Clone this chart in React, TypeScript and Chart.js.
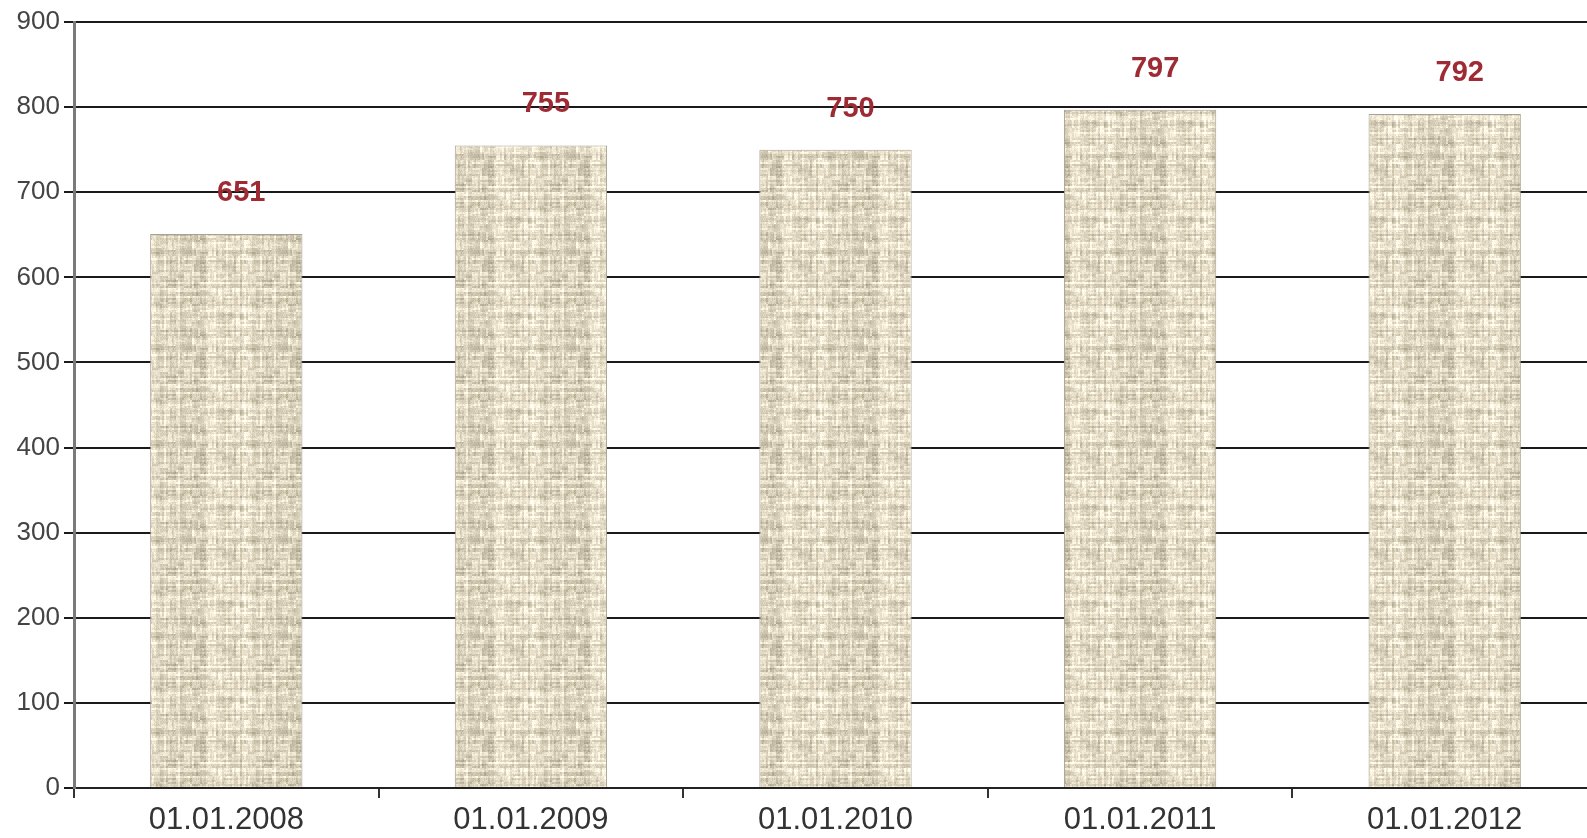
import React, { useEffect, useRef } from "react";
import { Chart, registerables } from "chart.js";

Chart.register(...registerables);

const categories = ["01.01.2008", "01.01.2009", "01.01.2010", "01.01.2011", "01.01.2012"];
const values = [651, 755, 750, 797, 792];
const yTicks = [0, 100, 200, 300, 400, 500, 600, 700, 800, 900];

function makeLinen(): CanvasPattern | string {
  const size = 96;
  const c = document.createElement("canvas");
  c.width = size;
  c.height = size;
  const ctx = c.getContext("2d");
  if (!ctx) return "#ddd3bd";
  const img = ctx.createImageData(size, size);
  const h = (a: number, b: number) => {
    const s = Math.sin(a * 12.9898 + b * 78.233) * 43758.5453;
    return s - Math.floor(s);
  };
  for (let y = 0; y < size; y++) {
    for (let x = 0; x < size; x++) {
      const col = h(Math.floor(x / 2), 3.1) - 0.5;
      const row = h(7.7, Math.floor(y / 2)) - 0.5;
      const streakV = h(Math.floor(x / 2), Math.floor(y / 8)) - 0.5;
      const streakH = h(Math.floor(x / 8) + 100, Math.floor(y / 2)) - 0.5;
      const n = h(x + 0.37, y + 0.71) - 0.5;
      const v = 0.55 * col + 0.55 * row + 0.5 * streakV + 0.5 * streakH + 0.4 * n;
      const d = v * 60;
      const i = (y * size + x) * 4;
      img.data[i] = Math.max(0, Math.min(255, 227 + d));
      img.data[i + 1] = Math.max(0, Math.min(255, 218 + d));
      img.data[i + 2] = Math.max(0, Math.min(255, 197 + d * 1.05));
      img.data[i + 3] = 255;
    }
  }
  ctx.putImageData(img, 0, 0);
  const p = ctx.createPattern(c, "repeat");
  return p || "#ddd3bd";
}

const labelPlugin = {
  id: "barLabels",
  afterDatasetsDraw(chart: any) {
    const ctx = chart.ctx;
    const meta = chart.getDatasetMeta(0);
    ctx.save();
    ctx.fillStyle = "#9e2a34";
    ctx.font = "bold 29px 'Liberation Sans', Arial, sans-serif";
    ctx.textAlign = "center";
    ctx.textBaseline = "middle";
    meta.data.forEach((bar: any, i: number) => {
      ctx.fillText(String(values[i]), bar.x + 15, bar.y - 41);
    });
    ctx.restore();
  },
};

export default function App() {
  const ref = useRef<HTMLCanvasElement | null>(null);
  useEffect(() => {
    document.body.style.margin = "0";
    if (!ref.current) return;
    const pattern = makeLinen();
    const chart = new Chart(ref.current, {
      type: "bar",
      data: {
        labels: categories,
        datasets: [
          {
            data: values,
            backgroundColor: pattern as any,
            borderColor: "#a8a294",
            borderWidth: 1,
            categoryPercentage: 1,
            barPercentage: 0.5,
          },
        ],
      },
      options: {
        animation: false,
        responsive: false,
        devicePixelRatio: 1,
        layout: { padding: { top: 22, right: 0, left: 0, bottom: 0 } },
        plugins: { legend: { display: false }, tooltip: { enabled: false } },
        scales: {
          x: {
            grid: {
              offset: true,
              drawOnChartArea: false,
              drawTicks: true,
              tickLength: 10,
              color: "#333",
              lineWidth: 2,
            },
            border: { color: "#222", width: 2 },
            ticks: {
              color: "#333",
              font: { family: "'Liberation Sans', Arial, sans-serif", size: 31 },
              padding: 4,
              maxRotation: 0,
              autoSkip: false,
            },
            afterFit(scale: any) {
              scale.height = 50;
              scale.paddingLeft = 0;
              scale.paddingRight = 0;
            },
          },
          y: {
            min: 0,
            max: 900,
            afterBuildTicks(scale: any) {
              scale.ticks = yTicks.map((v) => ({ value: v }));
            },
            grid: {
              color: "#1a1a1a",
              lineWidth: 2,
              tickLength: 10,
            },
            border: { color: "#7a7a7a", width: 3 },
            ticks: {
              color: "#444",
              font: { family: "'Liberation Sans', Arial, sans-serif", size: 26 },
              padding: 4,
            },
            afterFit(scale: any) {
              scale.width = 74;
              scale.paddingTop = 0;
              scale.paddingBottom = 0;
            },
          },
        },
      },
      plugins: [labelPlugin],
    });
    return () => chart.destroy();
  }, []);
  return (
    <div style={{ position: "absolute", left: 0, top: 0, width: 1587, height: 838, overflow: "hidden", background: "#fff" }}>
      <canvas ref={ref} width={1597} height={838} style={{ width: 1597, height: 838, display: "block" }} />
    </div>
  );
}
